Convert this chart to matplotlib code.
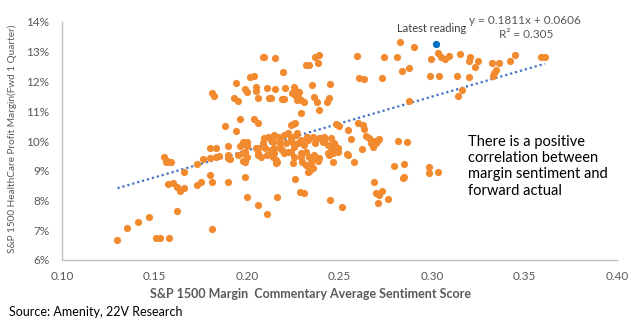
import numpy as np
import matplotlib
matplotlib.use("Agg")
import matplotlib.pyplot as plt
from matplotlib.ticker import FuncFormatter

plt.rcParams['font.family'] = ['Lato', 'DejaVu Sans']

# sentiment score (x) and forward profit margin in % (y)
sentiment = [
    0.130, 0.135, 0.141, 0.147, 0.151, 0.153, 0.158, 0.162, 0.181, 0.1575,
    0.160, 0.162, 0.164, 0.166, 0.173, 0.175, 0.180, 0.181, 0.1895, 0.199,
    0.200, 0.206, 0.211, 0.216, 0.226, 0.2285, 0.231, 0.166, 0.173, 0.156,
    0.1586, 0.199, 0.2155, 0.225, 0.230, 0.232, 0.2335, 0.2355, 0.155, 0.157,
    0.159, 0.176, 0.180, 0.183, 0.1895, 0.196, 0.200, 0.200, 0.180, 0.183,
    0.185, 0.1895, 0.190, 0.195, 0.198, 0.200, 0.206, 0.206, 0.188, 0.196,
    0.2036, 0.206, 0.194, 0.229, 0.2236, 0.226, 0.2388, 0.1906, 0.198, 0.2074,
    0.209, 0.210, 0.211, 0.214, 0.2144, 0.216, 0.2166, 0.218, 0.219, 0.220,
    0.222, 0.221, 0.222, 0.2236, 0.2253, 0.227, 0.2274, 0.229, 0.2307, 0.2323,
    0.2334, 0.234, 0.2345, 0.236, 0.237, 0.239, 0.239, 0.2247, 0.248, 0.198,
    0.199, 0.2047, 0.2057, 0.2085, 0.2128, 0.214, 0.2144, 0.218, 0.2236, 0.2247,
    0.2264, 0.218, 0.2198, 0.2236, 0.2253, 0.229, 0.232, 0.2155, 0.2329, 0.240,
    0.2415, 0.2437, 0.2453, 0.247, 0.249, 0.2443, 0.2464, 0.249, 0.2545,
    0.181, 0.182, 0.194, 0.193, 0.195, 0.199, 0.200, 0.2014, 0.2036, 0.2047,
    0.205, 0.206, 0.2085, 0.209, 0.2106, 0.2117, 0.2128, 0.215, 0.215, 0.2188,
    0.2198, 0.2193, 0.2204, 0.2242, 0.2253, 0.2258, 0.226, 0.2269, 0.2274, 0.228,
    0.229, 0.2307, 0.2318, 0.2334, 0.235, 0.236, 0.2377, 0.237, 0.2383, 0.2388,
    0.2443, 0.2432, 0.2448, 0.2594, 0.2605, 0.2632, 0.273, 0.2741, 0.281, 0.2828,
    0.2838, 0.2876, 0.2876, 0.2903, 0.2996, 0.299, 0.3039, 0.3034, 0.250, 0.260,
    0.2627, 0.2632, 0.2643, 0.241, 0.2415, 0.2453, 0.248, 0.2464, 0.2437, 0.236,
    0.2383, 0.254, 0.2562, 0.2578, 0.262, 0.2659, 0.267, 0.268, 0.2687, 0.2697,
    0.2708, 0.2714, 0.2817, 0.2866, 0.2795, 0.2849, 0.2844, 0.2849, 0.2985, 0.2985,
    0.3034, 0.2687, 0.2697, 0.2714, 0.273, 0.2708, 0.2763, 0.2448, 0.2513, 0.2329,
    0.2545, 0.305, 0.307, 0.309, 0.3153, 0.3207, 0.320, 0.325, 0.323, 0.3327,
    0.336, 0.3348, 0.3337, 0.333, 0.342, 0.345, 0.359, 0.361, 0.3137, 0.320,
    0.316, 0.314, 0.2112, 0.2128, 0.2144, 0.229, 0.2356,
]
margin = [
    6.67, 7.08, 7.28, 7.45, 6.74, 6.74, 6.74, 7.65, 7.04, 8.56,
    8.59, 8.45, 8.32, 8.42, 8.52, 8.62, 8.86, 8.62, 8.62, 8.79,
    8.12, 7.85, 7.55, 8.12, 8.72, 8.29, 8.25, 8.96, 9.23, 9.29,
    9.29, 9.29, 9.26, 9.26, 9.29, 9.19, 8.99, 9.09, 9.46, 9.33,
    9.30, 9.40, 9.77, 9.77, 9.83, 9.83, 9.97, 9.83, 9.43, 9.46,
    9.50, 9.53, 9.43, 9.53, 9.33, 9.46, 9.53, 9.77, 10.50, 10.74,
    10.74, 10.61, 10.34, 10.94, 10.54, 10.61, 11.04, 9.40, 9.60, 9.46,
    10.10, 9.77, 9.53, 9.97, 9.60, 9.29, 10.13, 9.93, 9.70, 10.20,
    10.27, 9.93, 9.63, 10.03, 9.80, 10.27, 9.93, 9.60, 9.87, 10.13,
    9.46, 9.03, 9.26, 9.43, 9.93, 10.10, 9.43, 10.57, 10.57, 9.97,
    9.63, 9.77, 9.60, 9.93, 9.70, 9.46, 9.77, 10.10, 10.13, 9.93,
    10.20, 9.77, 9.60, 9.63, 9.46, 9.46, 9.63, 9.36, 10.03, 10.10,
    10.03, 9.87, 9.80, 9.93, 9.77, 9.53, 9.29, 9.63, 10.37,
    11.61, 11.51, 11.95, 11.45, 11.34, 11.75, 11.65, 12.15, 12.18, 11.82,
    11.68, 11.45, 12.82, 12.82, 11.78, 11.45, 11.45, 11.75, 12.79, 11.41,
    11.41, 12.32, 11.78, 11.61, 11.82, 11.71, 11.55, 11.38, 11.48, 11.65,
    11.38, 11.31, 12.55, 12.55, 11.88, 11.48, 11.31, 12.82, 12.62, 12.89,
    11.45, 11.31, 11.92, 12.86, 12.12, 12.08, 12.12, 12.82, 12.82, 13.33,
    12.35, 12.45, 11.34, 13.16, 12.76, 12.18, 12.18, 12.96, 10.50, 10.61,
    10.54, 10.40, 10.17, 9.97, 10.13, 10.10, 9.80, 9.60, 9.60, 9.53,
    9.33, 9.56, 10.07, 9.29, 9.73, 10.10, 9.93, 9.80, 10.00, 9.93,
    10.03, 10.07, 10.00, 9.97, 9.16, 9.23, 8.76, 8.79, 9.13, 8.92,
    8.96, 8.62, 8.25, 8.19, 8.32, 7.92, 8.05, 8.02, 7.78, 8.96,
    9.53, 12.82, 12.76, 12.86, 12.92, 12.82, 12.69, 12.69, 12.49, 12.62,
    12.62, 12.39, 12.29, 12.18, 12.69, 12.89, 12.82, 12.82, 12.18, 12.15,
    11.71, 11.51, 10.13, 10.03, 10.20, 10.03, 10.13,
]

latest_x = 0.302
latest_y = 13.26

# Excel linear trend line as printed on the chart
slope = 0.1811
intercept = 0.0606

x_ticks = [0.10, 0.15, 0.20, 0.25, 0.30, 0.35, 0.40]
y_ticks = [6, 7, 8, 9, 10, 11, 12, 13, 14]

grey = '#595959'

fig = plt.figure(figsize=(6.41, 3.23), dpi=100)
ax = fig.add_axes([62 / 641, 1 - 260 / 323, 555 / 641, 238 / 323])

ax.scatter(sentiment, margin, s=27, color='#F28A30', linewidths=0, zorder=3)
ax.scatter([latest_x], [latest_y], s=27, color='#0070C0', linewidths=0, zorder=4)

tx = np.array([min(sentiment), max(sentiment)])
ax.plot(tx, (slope * tx + intercept) * 100, linestyle=(0, (1, 1.3)),
        color='#4472C4', linewidth=1.6, zorder=2)

ax.set_xlim(0.10, 0.40)
ax.set_ylim(6, 14)
ax.set_xticks(x_ticks)
ax.set_yticks(y_ticks)
ax.xaxis.set_major_formatter(FuncFormatter(lambda v, p: f"{v:.2f}"))
ax.yaxis.set_major_formatter(FuncFormatter(lambda v, p: f"{v:.0f}%"))
ax.tick_params(length=0, labelsize=8.5, colors=grey)
ax.tick_params(axis='x', pad=8)
ax.tick_params(axis='y', pad=9)

for side in ['top', 'right']:
    ax.spines[side].set_visible(False)
for side in ['left', 'bottom']:
    ax.spines[side].set_color('#BFBFBF')
    ax.spines[side].set_linewidth(1)

fig.text(311 / 641, 1 - 294 / 323, "S&P 1500 Margin  Commentary Average Sentiment Score",
         ha='center', va='center', fontsize=9, fontweight='bold', color=grey)
fig.text(12 / 641, 1 - 139 / 323, "S&P 1500 HealthCare Profit Margin(Fwd 1 Quarter)",
         ha='center', va='center', rotation=90, fontsize=7.2, color=grey)

fig.text(525 / 641, 1 - 20 / 323, "y = 0.1811x + 0.0606", ha='center', va='center',
         fontsize=8.5, color=grey)
fig.text(526 / 641, 1 - 35 / 323, "R² = 0.305", ha='center', va='center',
         fontsize=8.5, color=grey)
fig.text(432 / 641, 1 - 29 / 323, "Latest reading", ha='center', va='center',
         fontsize=8, color='#404040')

fig.text(468 / 641, 1 - 135 / 323,
         "There is a positive\ncorrelation between\nmargin sentiment and\nforward actual",
         ha='left', va='top', fontsize=10.5, color='black', linespacing=1.2)

fig.text(9 / 641, 1 - 312 / 323, "Source: Amenity, 22V Research", ha='left', va='center',
         fontsize=9, color='black')

fig.savefig('out.png', dpi=100)
